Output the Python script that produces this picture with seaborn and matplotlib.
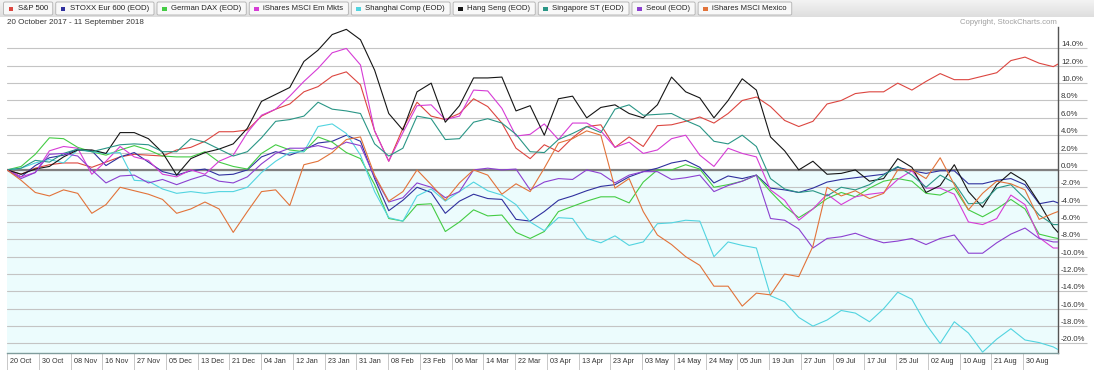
import numpy as np
import pandas as pd
import matplotlib
matplotlib.use("Agg")
import matplotlib.pyplot as plt
import matplotlib.transforms as mtransforms
from matplotlib.patches import Rectangle, FancyBboxPatch
import seaborn as sns

# trading-day index of each sample (every 3rd session, plus the last one)
days = list(range(0, 224, 3)) + [223]

series_names = ["S&P 500", "STOXX Eur 600 (EOD)", "German DAX (EOD)", "iShares MSCI Em Mkts",
                "Shanghai Comp (EOD)", "Hang Seng (EOD)", "Singapore ST (EOD)", "Seoul (EOD)",
                "iShares MSCI Mexico"]
series_colors = ["#dc4640", "#30309e", "#44cc44", "#d63cd6", "#52d4e0",
                 "#151515", "#2a9686", "#8c40d0", "#e2733a"]

sp500 = [0, -0.5, 0.2, 0.6, 0.8, 0.8, 0.3, 0.9, 1.5, 1.8, 1.7, 1.6, 2.3, 2.6, 3.3, 4.4, 4.4, 4.6, 6.2, 7.0,
         7.6, 9.0, 9.6, 10.8, 11.3, 9.8, 4.5, 1.0, 4.8, 7.8, 6.2, 5.8, 6.5, 8.2, 7.3, 5.4, 2.5, 1.3, 2.9, 2.1,
         3.7, 5.0, 5.2, 2.6, 3.8, 2.7, 5.1, 5.2, 5.6, 6.1, 5.4, 6.5, 8.0, 8.4, 7.3, 5.7, 5.0, 5.6, 7.6, 8.0,
         8.8, 9.0, 9.0, 10.0, 9.2, 10.2, 11.1, 10.4, 10.4, 10.8, 11.2, 12.6, 13.0, 12.3, 11.9, 12.2]
stoxx = [0, -0.8, 0.5, 1.4, 1.7, 2.4, 2.2, 0.5, 1.5, 2.0, 0.9, -0.2, -0.6, -0.1, 0.1, -0.6, -0.5, 0.0, 1.5, 2.1,
         1.7, 2.3, 3.1, 3.3, 4.0, 3.3, -1.0, -4.7, -3.5, -2.0, -2.6, -5.0, -3.6, -2.8, -3.3, -3.4, -5.7, -5.9, -4.8, -3.5,
         -3.0, -2.4, -1.9, -1.7, -0.8, -0.2, 0.2, 0.8, 1.1, 0.3, -1.5, -0.7, -1.0, -0.6, -2.1, -2.3, -2.6, -2.1, -1.4, -1.1,
         -0.9, -0.7, -0.5, 0.3, -0.1, -0.4, -0.1, -0.1, -1.6, -1.6, -1.2, -1.0, -1.7, -3.9, -3.6, -3.8]
dax = [0, 0.4, 1.8, 3.7, 3.6, 2.6, 2.1, 1.7, 2.3, 2.8, 2.3, 1.6, 1.5, 1.5, 2.1, 0.9, 0.4, 0.1, 1.9, 2.9,
       2.3, 2.1, 3.8, 3.2, 2.0, 1.3, -1.7, -5.6, -5.9, -4.0, -3.9, -7.1, -6.0, -4.6, -5.3, -5.2, -7.2, -7.9, -7.1, -4.8,
       -4.2, -3.6, -3.1, -3.1, -3.8, -1.4, 0.0, 0.0, 0.6, 0.1, -2.0, -1.7, -1.3, -0.6, -2.5, -4.2, -5.5, -4.5, -3.3, -2.6,
       -3.1, -2.1, -1.3, -1.0, -1.3, -2.7, -2.9, -2.1, -4.6, -5.4, -4.5, -3.4, -4.5, -7.4, -7.8, -7.9]
em_mkts = [0, -0.8, -0.3, 2.2, 2.7, 2.5, -0.5, 1.0, 2.7, 1.5, 1.1, -0.5, -0.8, 0.0, -0.5, 1.0, 1.7, 4.3, 6.3, 7.0,
           8.5, 10.2, 11.7, 13.5, 14.0, 12.1, 4.5, 1.0, 4.3, 7.4, 7.5, 5.8, 6.2, 9.2, 9.1, 7.1, 3.9, 4.1, 5.3, 3.5,
           5.4, 5.4, 4.5, 2.6, 3.2, 1.9, 2.3, 3.6, 4.0, 1.7, 0.4, 2.5, 1.9, 1.5, -2.3, -3.5, -5.8, -4.5, -2.8, -4.0,
           -3.1, -2.8, -2.6, -1.1, -0.1, -2.1, -2.1, -2.8, -6.0, -6.3, -5.6, -2.9, -4.0, -7.8, -9.0, -9.0]
shanghai = [0, 0.2, 0.8, 1.2, 0.8, 2.3, 2.1, 1.9, 2.0, -1.2, -1.3, -2.2, -2.7, -2.5, -2.7, -2.5, -2.5, -2.0, -0.3, 1.0,
            2.0, 2.1, 5.0, 5.3, 4.2, 1.7, -2.5, -5.5, -5.9, -3.0, -2.2, -3.6, -2.5, -1.4, -2.4, -2.9, -4.0, -6.0, -7.0, -5.5,
            -5.6, -7.9, -8.4, -7.6, -8.7, -8.3, -6.2, -6.1, -5.8, -5.9, -10.0, -8.3, -8.7, -9.0, -14.5, -15.2, -17.0, -18.0, -17.3, -16.2,
            -16.5, -17.5, -16.0, -14.1, -14.9, -17.8, -20.0, -17.5, -18.8, -21.0, -19.5, -18.3, -19.6, -19.9, -20.4, -20.7]
hang_seng = [0, -0.5, 0.1, 0.4, 1.5, 2.3, 2.3, 1.9, 4.3, 4.3, 3.6, 2.0, -0.6, 1.3, 2.0, 2.4, 3.0, 4.8, 7.9, 8.7,
             9.5, 12.5, 13.8, 15.6, 16.2, 15.0, 11.5, 6.5, 4.6, 9.0, 10.0, 5.5, 7.4, 10.6, 10.6, 10.7, 6.8, 7.4, 4.0, 8.2,
             8.5, 6.0, 7.2, 7.5, 6.5, 6.0, 7.5, 10.7, 9.0, 8.3, 6.0, 8.0, 10.5, 9.2, 3.8, 2.2, 0.0, 1.0, -0.5, -0.4,
             0.0, -1.3, -1.0, 1.3, 0.3, -2.6, -1.8, 0.6, -2.5, -4.3, -1.7, -0.3, -1.3, -3.8, -6.6, -7.2]
singapore = [0, 0.2, 1.1, 0.9, 1.9, 2.4, 2.1, 2.5, 2.9, 3.0, 2.9, 2.1, 2.1, 3.6, 3.2, 2.4, 1.6, 2.1, 3.7, 5.6,
             5.8, 6.2, 7.8, 7.0, 6.8, 6.5, 3.0, 1.6, 2.5, 6.2, 5.9, 3.5, 3.6, 5.5, 5.9, 5.4, 4.1, 2.1, 2.0, 3.5,
             4.2, 5.0, 4.3, 7.0, 7.5, 6.3, 6.4, 6.5, 5.7, 5.0, 3.3, 3.0, 4.0, 2.7, -1.0, -2.2, -2.6, -2.4, -3.0, -2.0,
             -2.3, -1.7, -0.6, 0.4, -0.6, -2.0, -0.6, -1.5, -3.9, -3.8, -2.1, -1.7, -3.3, -5.2, -6.3, -6.3]
seoul = [0, -1.0, -0.3, 1.8, 1.9, 1.6, 0.0, -1.5, -0.7, -0.6, -1.5, -1.1, -1.7, -1.1, -0.6, -1.3, -1.5, -0.8, 0.7, 1.9,
         2.5, 2.5, 2.8, 2.4, 3.2, 2.8, -0.8, -3.7, -3.2, -1.5, -2.0, -3.2, -2.5, 0.0, 0.2, 0.0, 0.1, -2.3, -1.4, -1.0,
         -1.1, 0.0, -0.4, -1.5, -0.6, -0.2, -0.2, -1.1, -0.9, -0.6, -2.5, -1.8, -1.3, -0.6, -5.6, -5.8, -6.8, -9.0, -7.9, -7.7,
         -7.3, -7.9, -8.4, -8.2, -7.9, -8.6, -7.9, -7.5, -9.6, -9.6, -8.4, -7.4, -6.7, -7.9, -8.3, -8.3]
mexico = [0, -1.2, -2.6, -3.0, -2.3, -2.7, -5.0, -4.0, -2.0, -2.4, -2.8, -3.4, -5.0, -4.5, -3.7, -4.5, -7.2, -4.8, -2.5, -2.3,
          -4.1, 0.6, 1.0, 2.0, 3.5, 3.8, -0.6, -3.6, -2.5, 0.0, -1.7, -3.5, -1.5, 0.0, -0.6, -2.8, -1.6, -2.5, 0.2, 3.1,
          3.6, 4.5, 4.0, -2.1, -1.0, -4.8, -7.5, -8.6, -10.0, -11.0, -13.4, -13.4, -15.7, -14.2, -14.4, -12.0, -12.3, -8.8, -2.0, -3.0,
          -2.4, -3.3, -2.7, 0.0, 0.0, -1.0, 1.4, -1.7, -4.6, -2.7, -1.3, -1.6, -2.3, -5.7, -5.0, -4.8]

x_tick_labels = ["20 Oct", "30 Oct", "08 Nov", "16 Nov", "27 Nov", "05 Dec", "13 Dec", "21 Dec", "04 Jan",
                 "12 Jan", "23 Jan", "31 Jan", "08 Feb", "23 Feb", "06 Mar", "14 Mar", "22 Mar", "03 Apr",
                 "13 Apr", "23 Apr", "03 May", "14 May", "24 May", "05 Jun", "19 Jun", "27 Jun", "09 Jul",
                 "17 Jul", "25 Jul", "02 Aug", "10 Aug", "21 Aug", "30 Aug"]
y_ticks = list(range(-20, 15, 2))

all_values = [sp500, stoxx, dax, em_mkts, shanghai, hang_seng, singapore, seoul, mexico]
frames = []
for name, vals in zip(series_names, all_values):
    frames.append(pd.DataFrame({"day": days, "pct": vals, "series": name}))
df = pd.concat(frames, ignore_index=True)

sns.set_theme(style="white")
plt.rcParams["font.family"] = ["Liberation Sans", "DejaVu Sans"]

W, H = 1094, 370
fig = plt.figure(figsize=(W / 100, H / 100), dpi=100)
fig.patch.set_facecolor("white")

# main plot area
ax = fig.add_axes([7 / W, 17 / H, (1058 - 7) / W, (353 - 27) / H])
ax.set_facecolor("white")
ax.axhspan(-30, 0, color="#ecfcfd", zorder=0, lw=0)
for v in y_ticks:
    ax.axhline(v, color="#c4c4c4", lw=0.8, zorder=1)
ax.axhline(0, color="#808080", lw=1.6, zorder=1)

sns.lineplot(data=df, x="day", y="pct", hue="series", hue_order=series_names,
             palette=series_colors, legend=False, linewidth=0.8, estimator=None,
             sort=False, ax=ax, zorder=3)

ax.set_xlim(0, 223)
ax.set_ylim(-21.1, 16.47)
ax.set_xlabel("")
ax.set_ylabel("")

# y axis on the right, labels sitting on gridline stubs
ax.yaxis.tick_right()
ax.set_yticks(y_ticks)
ax.set_yticklabels([f"{v:.1f}%" for v in y_ticks])
ax.tick_params(axis="y", length=21, width=0.8, color="#c4c4c4", pad=-18.8,
               labelsize=5.6, labelcolor="#333333", right=True, left=False)
for lbl in ax.get_yticklabels():
    lbl.set_va("bottom")

# date strip at the bottom
tick_days = [i * 31.75 / 4.713 for i in range(len(x_tick_labels))]
ax.set_xticks(tick_days)
ax.set_xticklabels(x_tick_labels, ha="left")
ax.tick_params(axis="x", length=12, width=0.7, color="#c8c8c8", pad=-8.4,
               labelsize=5.2, labelcolor="#333333", bottom=True)
shift = mtransforms.ScaledTranslation(0.03, 0, fig.dpi_scale_trans)
for lbl in ax.get_xticklabels():
    lbl.set_transform(lbl.get_transform() + shift)

for side in ["top", "left"]:
    ax.spines[side].set_visible(False)
ax.spines["right"].set_color("#555555")
ax.spines["right"].set_linewidth(1.0)
ax.spines["bottom"].set_color("#7f9c9c")
ax.spines["bottom"].set_linewidth(1.0)

# legend bar across the top
bar = fig.add_axes([0, 1 - 17 / H, 1, 17 / H])
bar.imshow(np.linspace(0.95, 0.87, 20).reshape(-1, 1), cmap="gray", vmin=0, vmax=1,
           extent=[0, W, 17, 0], aspect="auto")
bar.set_xlim(0, W)
bar.set_ylim(17, 0)
bar.axis("off")

renderer = fig.canvas.get_renderer()
x = 3.5
for name, col in zip(series_names, series_colors):
    t = bar.text(x + 14, 8.6, name, fontsize=5.6, color="#222222", va="center", ha="left", zorder=4)
    tw = t.get_window_extent(renderer).width
    box = FancyBboxPatch((x, 2), tw + 19, 13, boxstyle="round,pad=0,rounding_size=1.5",
                         facecolor="#f8f8f8", edgecolor="#b0b0b0", lw=0.6, zorder=2)
    bar.add_patch(box)
    bar.add_patch(Rectangle((x + 5, 6.5), 4.5, 4.5, facecolor=col, edgecolor="none", zorder=3))
    x += tw + 19 + 3

fig.text(7 / W, 1 - 23 / H, "20 October 2017 - 11 September 2018", fontsize=5.8,
         color="#333333", va="center", ha="left")
fig.text(1057 / W, 1 - 23 / H, "Copyright, StockCharts.com", fontsize=5.6,
         color="#a0a0a0", va="center", ha="right")

fig.savefig("out.png", dpi=100)
